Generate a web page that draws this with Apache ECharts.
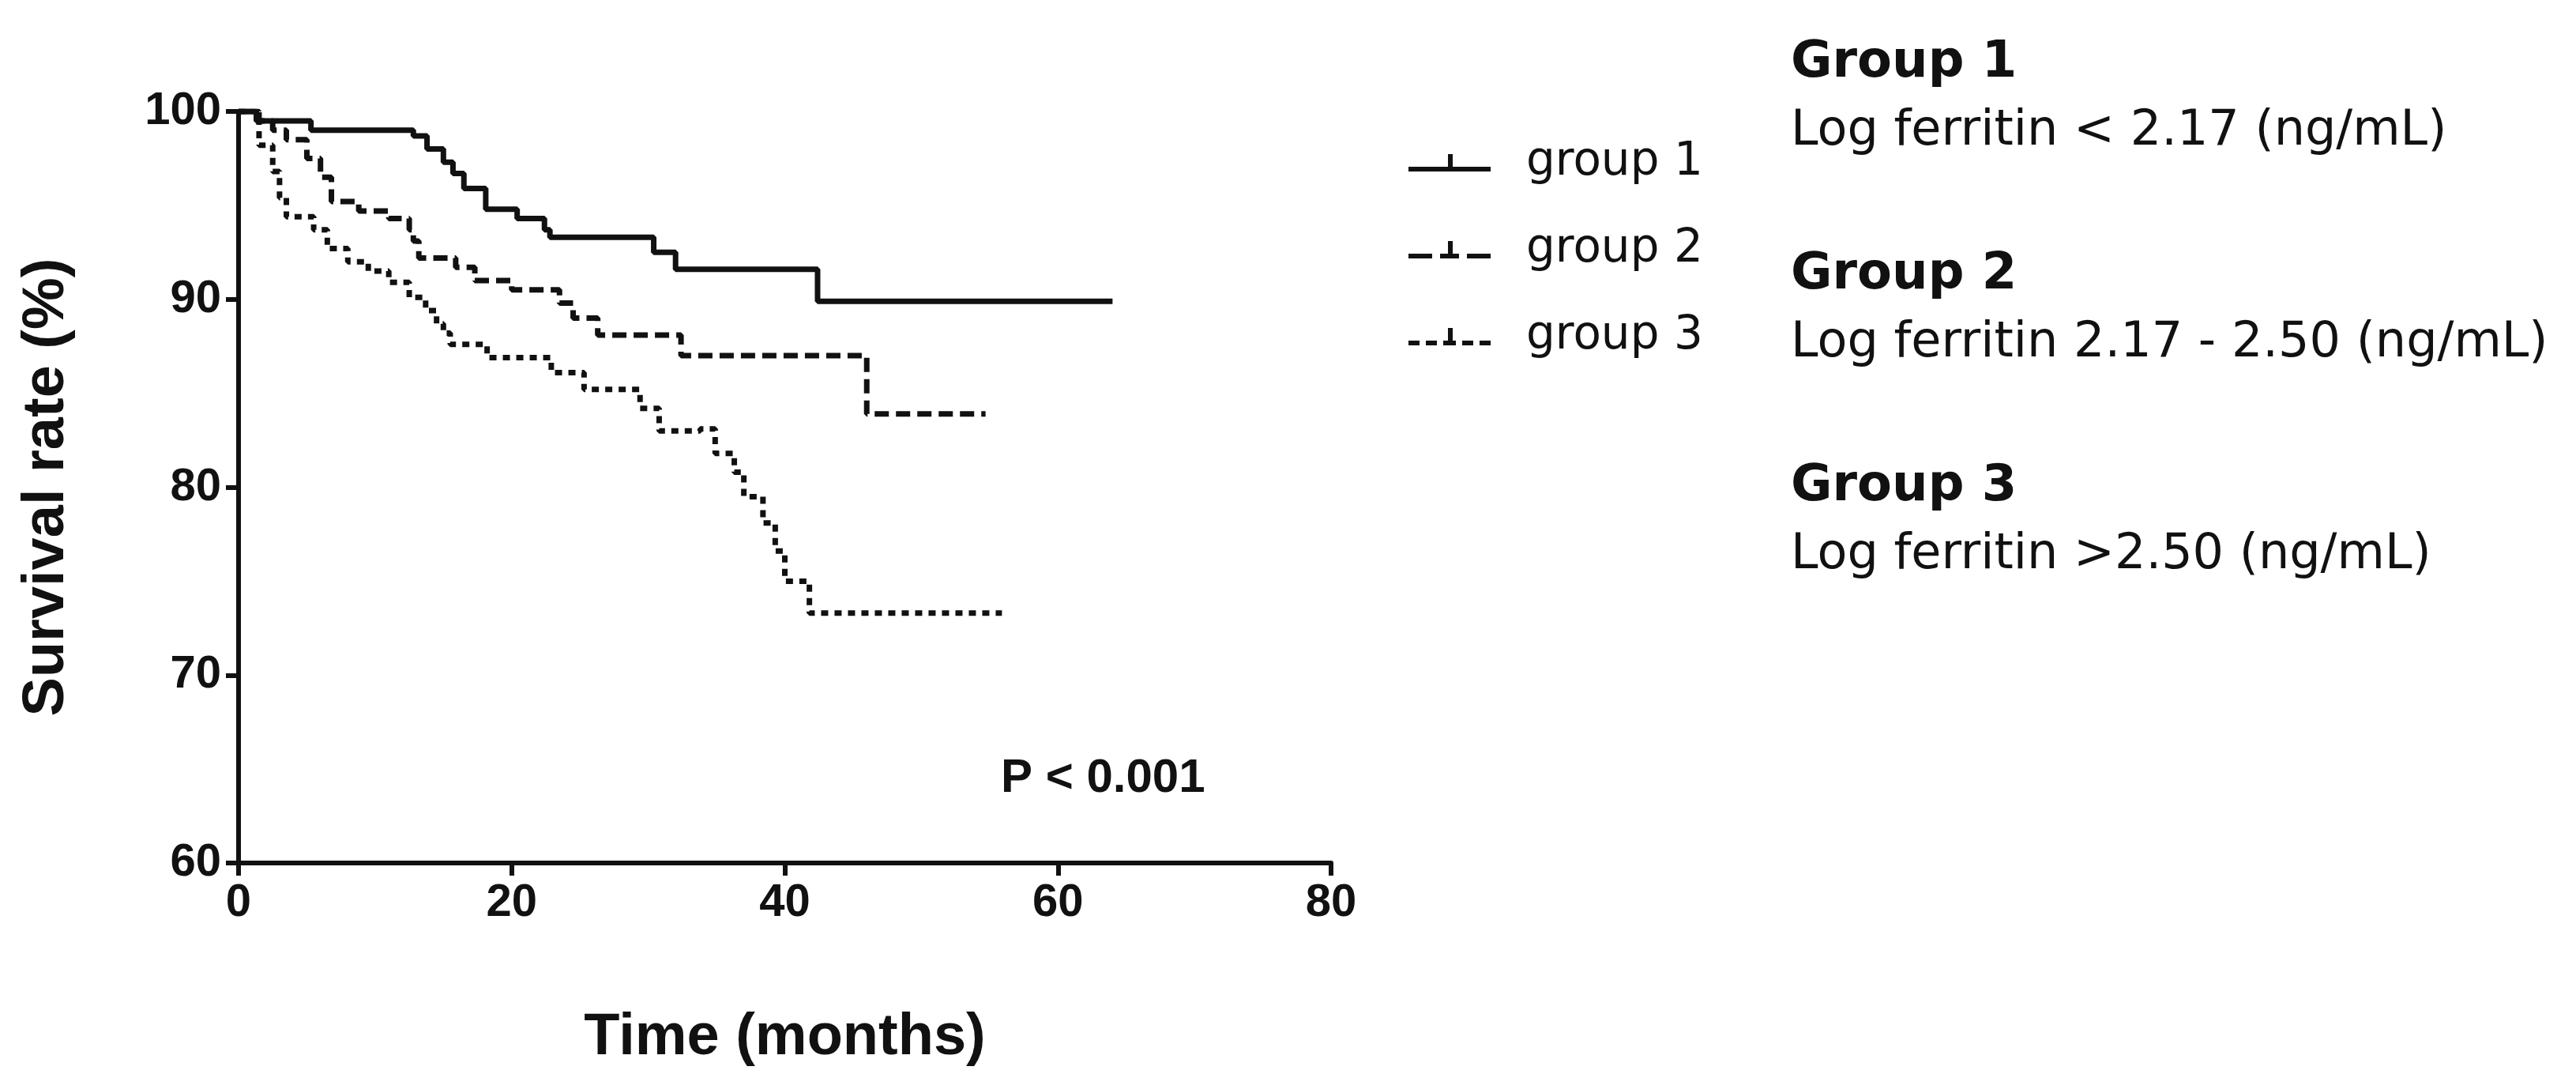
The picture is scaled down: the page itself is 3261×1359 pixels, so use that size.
<!DOCTYPE html>
<html>
<head>
<meta charset="utf-8">
<script src="https://cdn.jsdelivr.net/npm/echarts@6/dist/echarts.min.js"></script>
<style>html,body{margin:0;background:#fff}#chart{width:3261px;height:1359px}</style>
</head>
<body>
<div id="chart"></div>
<script>
// step points [months, survival %]
var group1 = [[0,100],[1.3,99.5],[5.3,99.0],[12.8,98.7],[13.8,98.0],[15,97.3],[15.7,96.7],[16.5,95.9],[18.1,94.8],[20.4,94.3],[22.4,93.7],[22.8,93.3],[30.4,92.5],[32,91.6],[42.4,89.9],[64,89.9]];
var group2 = [[0,100],[1.5,99.5],[2.5,99],[3.5,98.5],[5,97.5],[6,96.5],[6.8,95.2],[8.8,94.7],[11,94.3],[12.5,93.7],[12.8,93.1],[13.2,92.2],[15.9,91.7],[17.3,91.0],[20,90.5],[23.5,89.8],[24.5,89.0],[26.3,88.1],[32.4,87.0],[46,83.9],[54.7,83.9]];
var group3 = [[0,100],[1.5,98.2],[2.5,96.8],[3,95.4],[3.5,94.4],[5.5,93.7],[6.5,92.7],[8,92.0],[9.5,91.5],[11,90.9],[12.5,90.1],[13.7,89.4],[14.5,88.7],[15,88.2],[15.5,87.6],[18.2,86.9],[22.9,86.1],[25.3,85.2],[29.4,84.2],[30.8,83.0],[33.8,83.1],[34.9,81.8],[36.3,80.8],[37,79.5],[38.4,78.1],[39.3,76.6],[40,75.0],[41.8,73.3],[55.9,73.3]];
var groupNames = ['group 1','group 2','group 3'];
var lineTypes = ['solid',[18,9],[9,8]];
var notes = [
  ['Group 1','Log ferritin < 2.17 (ng/mL)'],
  ['Group 2','Log ferritin 2.17 - 2.50 (ng/mL)'],
  ['Group 3','Log ferritin >2.50 (ng/mL)']
];

// legend glyphs: line pattern with a censor tick
var legendIcons = [
    'path://M0,16h104v6H0z M50,0h6v22h-6z',
    'path://M0,16h30v6H0z M40,16h24v6H40z M74,16h30v6H74z M50,0h6v22h-6z',
    'path://M0,16h14v6H0z M22,16h14v6H22z M44,16h16v6H44z M68,16h14v6H68z M90,16h14v6H90z M50,0h6v22h-6z'
];

var chart = echarts.init(document.getElementById('chart'));
var data = [group1, group2, group3];
var series = data.map(function (d, i) {
    return {
        name: groupNames[i], type: 'line', step: 'end', data: d, symbol: 'none',
        lineStyle: {color: '#111', width: 7, type: lineTypes[i]},
        itemStyle: {color: '#111'}
    };
});
var axisFont = {fontFamily: 'Liberation Sans', fontWeight: 'bold', fontSize: 58, color: '#111'};
var titleFont = {fontFamily: 'Liberation Sans', fontWeight: 'bold', fontSize: 74, color: '#111'};
var graphics = [];
notes.forEach(function (n, i) {
    graphics.push({type: 'text', left: 2267, top: 48 + i * 268,
        style: {text: n[0], font: 'bold 64px "DejaVu Sans"', fill: '#111'}});
    graphics.push({type: 'text', left: 2267, top: 136 + i * 268,
        style: {text: n[1], font: '62px "DejaVu Sans"', fill: '#111'}});
});
graphics.push({type: 'text', left: 1267, top: 955,
    style: {text: 'P < 0.001', font: 'bold 60px "Liberation Sans"', fill: '#111'}});

chart.setOption({
    animation: false,
    grid: {left: 302, right: 1576, top: 141, bottom: 267},
    legend: {
        orient: 'vertical', left: 1778, top: 172, itemWidth: 104, itemHeight: 22, itemGap: 52,
        data: groupNames.map(function (n, i) {
            return {name: n, icon: legendIcons[i], itemStyle: {color: '#111', borderWidth: 0}};
        }),
        textStyle: {fontFamily: 'DejaVu Sans', fontSize: 58, color: '#111', padding: [0, 0, 0, 40]}
    },
    xAxis: {
        type: 'value', min: 0, max: 80, interval: 20,
        name: 'Time (months)', nameLocation: 'middle', nameGap: 185,
        nameTextStyle: titleFont,
        axisLine: {lineStyle: {color: '#111', width: 6}},
        axisTick: {length: 16, lineStyle: {width: 6, color: '#111'}},
        axisLabel: Object.assign({margin: 22}, axisFont),
        splitLine: {show: false}
    },
    yAxis: {
        type: 'value', min: 60, max: 100, interval: 10,
        name: 'Survival rate (%)', nameLocation: 'middle', nameGap: 205,
        nameTextStyle: titleFont,
        axisLine: {show: true, lineStyle: {color: '#111', width: 6}},
        axisTick: {show: true, length: 16, lineStyle: {width: 6, color: '#111'}},
        axisLabel: Object.assign({margin: 22}, axisFont),
        splitLine: {show: false}
    },
    series: series,
    graphic: graphics
});
</script>
</body>
</html>
